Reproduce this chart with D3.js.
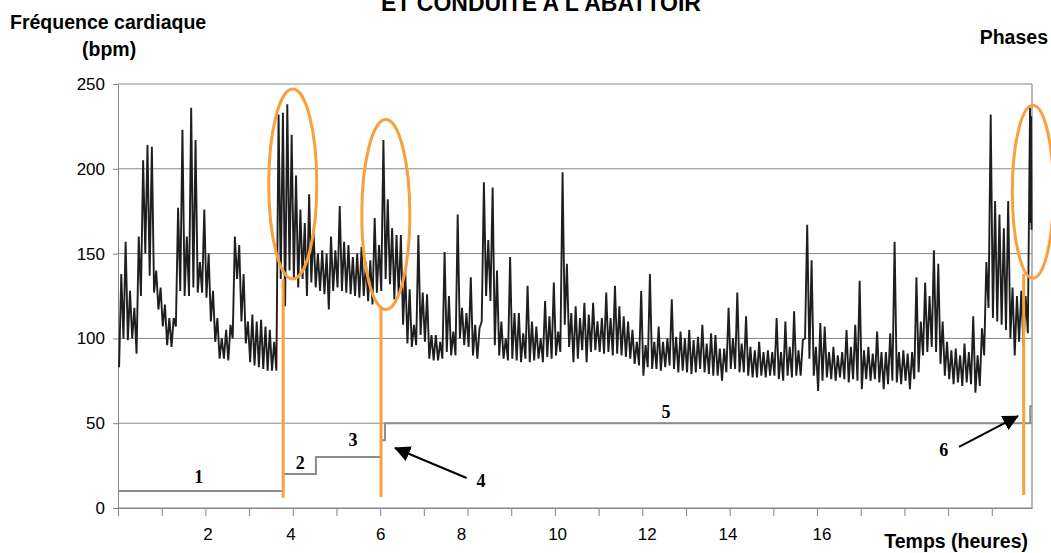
<!DOCTYPE html>
<html>
<head>
<meta charset="utf-8">
<script src="https://cdn.jsdelivr.net/npm/d3@7"></script>
<style>
  body { margin: 0; background: #fff; }
  text { font-family: "Liberation Sans", Arial, sans-serif; }
  .title { font-weight: bold; font-size: 19.5px; }
  .phase-num { font-family: "Liberation Serif", "Times New Roman", serif; font-weight: bold; font-size: 18px; }
</style>
</head>
<body>
<div id="chart"></div>
<script>
// Heart rate, [low, high] read per 0.1 h bin
const hrA = [ // 0 - 4 h
  [83,138],[100,157],[99,128],[100,118],[91,160],[125,205],[150,214],[137,213],[127,140],[117,130],
  [107,120],[96,112],[95,112],[107,177],[128,223],[125,160],[125,236],[130,217],[127,145],[127,176],
  [124,150],[110,128],[98,112],[88,100],[88,105],[87,108],[100,160],[135,155],[110,138],[97,110],
  [86,114],[84,110],[83,111],[82,107],[81,105],[81,98],[81,232],[135,233],[119,238],[140,220]
];
const hrB = [ // 4 - 8 h
  [135,196],[130,176],[135,168],[125,185],[133,164],[130,150],[128,152],[126,150],[117,160],[128,152],
  [130,178],[128,157],[127,155],[126,148],[125,150],[124,154],[125,145],[122,146],[120,171],[127,155],
  [128,217],[135,182],[132,165],[123,161],[125,161],[108,140],[97,129],[95,108],[96,161],[102,127],
  [98,126],[88,102],[87,102],[87,98],[88,151],[92,125],[90,104],[90,173],[100,118],[96,115]
];
const hrC = [ // 8 - 12 h
  [95,136],[90,108],[88,106],[110,192],[125,158],[122,189],[96,140],[90,110],[88,100],[87,148],
  [88,115],[87,115],[86,103],[88,131],[86,110],[87,107],[88,100],[86,122],[89,113],[88,133],
  [90,104],[92,198],[108,144],[95,115],[86,119],[88,112],[93,121],[86,114],[92,121],[93,110],
  [92,112],[91,127],[92,112],[90,131],[91,119],[90,113],[89,110],[88,105],[85,98],[84,128]
];
const hrD = [ // 12 - 16 h
  [78,96],[83,138],[82,98],[82,107],[81,98],[83,100],[84,123],[82,101],[80,104],[81,100],
  [80,105],[79,99],[80,101],[82,108],[80,97],[79,103],[78,102],[78,94],[75,94],[80,118],
  [82,100],[82,127],[80,97],[80,113],[78,95],[77,93],[77,98],[78,92],[77,93],[78,92],
  [78,112],[76,92],[75,110],[78,95],[77,116],[78,93],[78,99],[100,167],[88,146],[78,95]
];
const hrE = [ // 16 - 20.9 h
  [69,109],[75,107],[77,92],[76,95],[75,90],[77,92],[76,105],[74,95],[76,108],[75,134],
  [70,93],[76,95],[75,91],[76,104],[74,92],[70,92],[73,103],[75,157],[74,92],[73,93],
  [75,91],[70,92],[76,136],[80,110],[90,133],[92,125],[95,152],[92,144],[85,110],[78,98],
  [76,93],[73,94],[74,90],[72,97],[74,92],[73,113],[68,90],[72,106],[90,145],[118,232],
  [112,181],[110,173],[108,165],[105,181],[100,130],[90,125],[98,128],[95,125],[103,236]
];
const hrTail = [[20.89, 168], [20.90, 231], [20.91, 164]];
const binHours = 0.1;

// Phases: start time (h) and level on the bpm scale
const phaseStart = [0, 3.78, 4.53, 6.02, 6.11, 20.88];
const phaseLevel = [10, 20, 30, 40, 50, 60];
const phaseEnd = 20.92;
const phaseLabels = [
  { label: "1", t: 1.85, v: 14.7 },
  { label: "2", t: 4.17, v: 23 },
  { label: "3", t: 5.38, v: 36.6 },
  { label: "4", t: 8.31, v: 12.2 },
  { label: "5", t: 12.54, v: 53 },
  { label: "6", t: 18.9, v: 30.7 },
];

// Annotations (in hours / bpm)
const ellipses = [
  { t: 4.0, v: 191, rt: 0.55, rv: 56 },
  { t: 6.13, v: 173, rt: 0.55, rv: 56 },
  { t: 20.94, v: 186.5, rt: 0.47, rv: 51 },
];
const orangeLines = [
  { t: 3.78, from: 6, to: 135 },
  { t: 6.02, from: 6.5, to: 118 },
  { t: 20.73, from: 7.7, to: 138 },
];
const arrows = [
  { t0: 7.98, v0: 17.7, t1: 6.34, v1: 35.4 },
  { t0: 19.25, v0: 36, t1: 20.6, v1: 54.2 },
];

// Axes
const yTicks = [0, 50, 100, 150, 200, 250];
const xTickMarks = d3.range(0, 21);
const xLabels = ["2", "4", "6", "8", "10", "12", "14", "16"];
const xLabelPos = [2.05, 3.95, 6.0, 7.85, 10.05, 12.1, 13.95, 16.1];

function draw() {
  let dimensions = {
    width: 1051,
    height: 553,
    margins: { top: 84, right: 19, bottom: 45, left: 118 },
  };
  dimensions.ctrWidth = dimensions.width - dimensions.margins.left - dimensions.margins.right;
  dimensions.ctrHeight = dimensions.height - dimensions.margins.top - dimensions.margins.bottom;

  const svg = d3
    .select("#chart")
    .append("svg")
    .attr("width", dimensions.width)
    .attr("height", dimensions.height);

  const ctr = svg
    .append("g")
    .attr("transform", `translate(${dimensions.margins.left}, ${dimensions.margins.top})`);

  // Scales
  const xScale = d3.scaleLinear().domain([0, phaseEnd]).range([0, dimensions.ctrWidth]);
  const yScale = d3.scaleLinear().domain([0, 250]).range([dimensions.ctrHeight, 0]);

  const gridColor = "#858585";

  // Gridlines
  ctr
    .append("g")
    .selectAll("line")
    .data(yTicks)
    .join("line")
    .attr("x1", 0)
    .attr("x2", dimensions.ctrWidth)
    .attr("y1", (d) => yScale(d))
    .attr("y2", (d) => yScale(d))
    .attr("stroke", gridColor)
    .attr("stroke-width", 1);

  // right border
  ctr
    .append("line")
    .attr("x1", dimensions.ctrWidth)
    .attr("x2", dimensions.ctrWidth)
    .attr("y1", 0)
    .attr("y2", dimensions.ctrHeight)
    .attr("stroke", "#a0a0a0")
    .attr("stroke-width", 1.5);

  // Axes
  const yAxis = d3.axisLeft(yScale).tickValues(yTicks).tickSize(5).tickSizeOuter(0).tickPadding(8);
  const yAxisGroup = ctr.append("g").call(yAxis);
  yAxisGroup.selectAll("text").attr("font-size", 17).attr("fill", "#000")
    .style("font-family", '"Liberation Sans", Arial, sans-serif');

  const xAxisTicks = d3.axisBottom(xScale).tickValues(xTickMarks).tickSize(8).tickSizeOuter(0).tickFormat("");
  const xAxisGroup = ctr
    .append("g")
    .attr("transform", `translate(0, ${dimensions.ctrHeight})`)
    .call(xAxisTicks);

  const xAxisLabels = d3
    .axisBottom(xScale)
    .tickValues(xLabelPos)
    .tickSize(0)
    .tickPadding(20)
    .tickFormat((d, i) => xLabels[i]);
  const xLabelGroup = ctr
    .append("g")
    .attr("transform", `translate(0, ${dimensions.ctrHeight})`)
    .call(xAxisLabels);
  xLabelGroup.select(".domain").remove();
  xLabelGroup.selectAll("text").attr("font-size", 17).attr("fill", "#000")
    .style("font-family", '"Liberation Sans", Arial, sans-serif');

  [yAxisGroup, xAxisGroup].forEach((g) => {
    g.select(".domain").attr("stroke", gridColor);
    g.selectAll(".tick line").attr("stroke", gridColor);
  });

  // Phase step line
  const phasePoints = phaseStart.map((t, i) => [t, phaseLevel[i]]);
  phasePoints.push([phaseEnd, phaseLevel[phaseLevel.length - 1]]);
  ctr
    .append("path")
    .datum(phasePoints)
    .attr("d", d3.line().x((d) => xScale(d[0])).y((d) => yScale(d[1])).curve(d3.curveStepAfter))
    .attr("fill", "none")
    .attr("stroke", "#8c8c8c")
    .attr("stroke-width", 2);

  // Heart rate trace
  const hrBins = [].concat(hrA, hrB, hrC, hrD, hrE);
  const hrPoints = hrBins.flatMap(([lo, hi], i) => [
    [i * binHours + binHours * 0.25, lo],
    [i * binHours + binHours * 0.75, hi],
  ]);
  hrTail.forEach((p) => hrPoints.push(p));

  const lineGenerator = d3
    .line()
    .x((d) => xScale(d[0]))
    .y((d) => yScale(d[1]));

  ctr
    .append("path")
    .datum(hrPoints)
    .attr("d", lineGenerator)
    .attr("fill", "none")
    .attr("stroke", "#1e1e1e")
    .attr("stroke-width", 1.9)
    .attr("stroke-linejoin", "miter");

  // Orange markers
  const orange = "#f7a03c";
  ctr
    .append("g")
    .selectAll("line")
    .data(orangeLines)
    .join("line")
    .attr("x1", (d) => xScale(d.t))
    .attr("x2", (d) => xScale(d.t))
    .attr("y1", (d) => yScale(d.from))
    .attr("y2", (d) => yScale(d.to))
    .attr("stroke", orange)
    .attr("stroke-width", 3);

  ctr
    .append("g")
    .selectAll("ellipse")
    .data(ellipses)
    .join("ellipse")
    .attr("cx", (d) => xScale(d.t))
    .attr("cy", (d) => yScale(d.v))
    .attr("rx", (d) => xScale(d.rt) - xScale(0))
    .attr("ry", (d) => yScale(0) - yScale(d.rv))
    .attr("fill", "none")
    .attr("stroke", orange)
    .attr("stroke-width", 3);

  // Arrows
  svg
    .append("defs")
    .append("marker")
    .attr("id", "head")
    .attr("viewBox", "0 -8 16 16")
    .attr("refX", 15)
    .attr("refY", 0)
    .attr("markerUnits", "userSpaceOnUse")
    .attr("markerWidth", 16)
    .attr("markerHeight", 16)
    .attr("orient", "auto")
    .append("path")
    .attr("d", "M0,-8L16,0L0,8Z")
    .attr("fill", "#000");

  ctr
    .append("g")
    .selectAll("line")
    .data(arrows)
    .join("line")
    .attr("x1", (d) => xScale(d.t0))
    .attr("y1", (d) => yScale(d.v0))
    .attr("x2", (d) => xScale(d.t1))
    .attr("y2", (d) => yScale(d.v1))
    .attr("stroke", "#000")
    .attr("stroke-width", 2)
    .attr("marker-end", "url(#head)");

  // Phase numbers
  ctr
    .append("g")
    .selectAll("text")
    .data(phaseLabels)
    .join("text")
    .classed("phase-num", true)
    .attr("x", (d) => xScale(d.t))
    .attr("y", (d) => yScale(d.v))
    .attr("text-anchor", "middle")
    .text((d) => d.label);

  // Titles (top line is cut by the frame, as in the source)
  svg
    .append("text")
    .attr("x", 541)
    .attr("y", 11)
    .attr("text-anchor", "middle")
    .attr("font-size", 23)
    .attr("font-weight", "bold")
    .text("ET CONDUITE A L'ABATTOIR");

  svg.append("text").classed("title", true).attr("x", 10).attr("y", 29).text("Fréquence cardiaque");
  svg.append("text").classed("title", true).attr("x", 82).attr("y", 56).text("(bpm)");
  svg.append("text").classed("title", true).attr("x", 1048).attr("y", 44)
    .attr("text-anchor", "end").text("Phases");
  svg.append("text").classed("title", true).attr("x", 1028).attr("y", 548)
    .attr("text-anchor", "end").text("Temps (heures)");
}

draw();
</script>
</body>
</html>
